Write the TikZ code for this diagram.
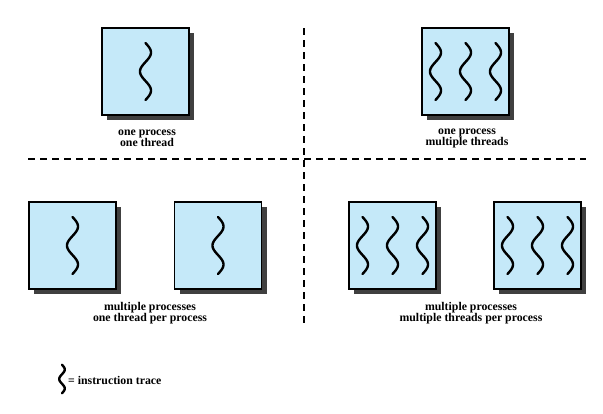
\documentclass[tikz,border=0pt]{standalone}
\usepackage{fontspec}
\setmainfont{Liberation Serif}
\usetikzlibrary{shadows}
\definecolor{procblue}{RGB}{197,233,249}
\definecolor{shadowgray}{RGB}{64,64,64}
\tikzset{
    procbox/.style={draw=black, line width=1.2pt, fill=procblue, minimum size=87pt, inner sep=0pt,
        drop shadow={shadow xshift=5pt, shadow yshift=-5pt, fill=shadowgray, opacity=1}},
    proclabel/.style={font=\bfseries\fontsize{11.8}{11.5}\selectfont, align=center, inner sep=0pt},
    divider/.style={line width=2.5pt, dash pattern=on 7pt off 5pt},
    trace/.pic={\draw [line width=2.4pt, line cap=round] plot [domain=0:540, samples=60, smooth] ({5.5*sin(\x)}, {-28.5+\x/540*57});}
}
\begin{document}
\begin{tikzpicture}[x=1pt, y=-1pt]
                \useasboundingbox (0,0) rectangle (603,413);
                % one process, one thread
                \node [procbox] (p1) at (145.5,71.5) {};
                \pic at (p1) {trace};
                \node [proclabel] (l1) at (147,138.5) {one process\\one thread};
                % one process, multiple threads
                \node [procbox] (p2) at (465.5,71.5) {};
                \foreach \dx in {-30,0,30} \pic at ([xshift=\dx pt]p2.center) {trace};
                \node [proclabel] (l2) at (467,138.5) {one process\\multiple threads};
                % multiple processes, one thread per process
                \node [procbox] (p3) at (72.5,245.5) {};
                \node [procbox] (p4) at (218,245.5) {};
                \pic at (p3) {trace};
                \pic at (p4) {trace};
                \node [proclabel] (l3) at (150,313) {multiple processes\\one thread per process};
                % multiple processes, multiple threads per process
                \node [procbox] (p5) at (392.5,245.5) {};
                \node [procbox] (p6) at (537.5,245.5) {};
                \foreach \dx in {-30,0,30} {
                    \pic at ([xshift=\dx pt]p5.center) {trace};
                    \pic at ([xshift=\dx pt]p6.center) {trace};
                }
                \node [proclabel] (l4) at (471,313) {multiple processes\\multiple threads per process};
                % dividers
                \draw [divider] (28,159) -- (586,159);
                \draw [divider] (304,28) -- (304,326);
                % legend
                \pic [scale=0.5] at (62,379) {trace};
                \node [proclabel, anchor=west] (legend) at (68,380) {= instruction trace};
            \end{tikzpicture}
\end{document}
